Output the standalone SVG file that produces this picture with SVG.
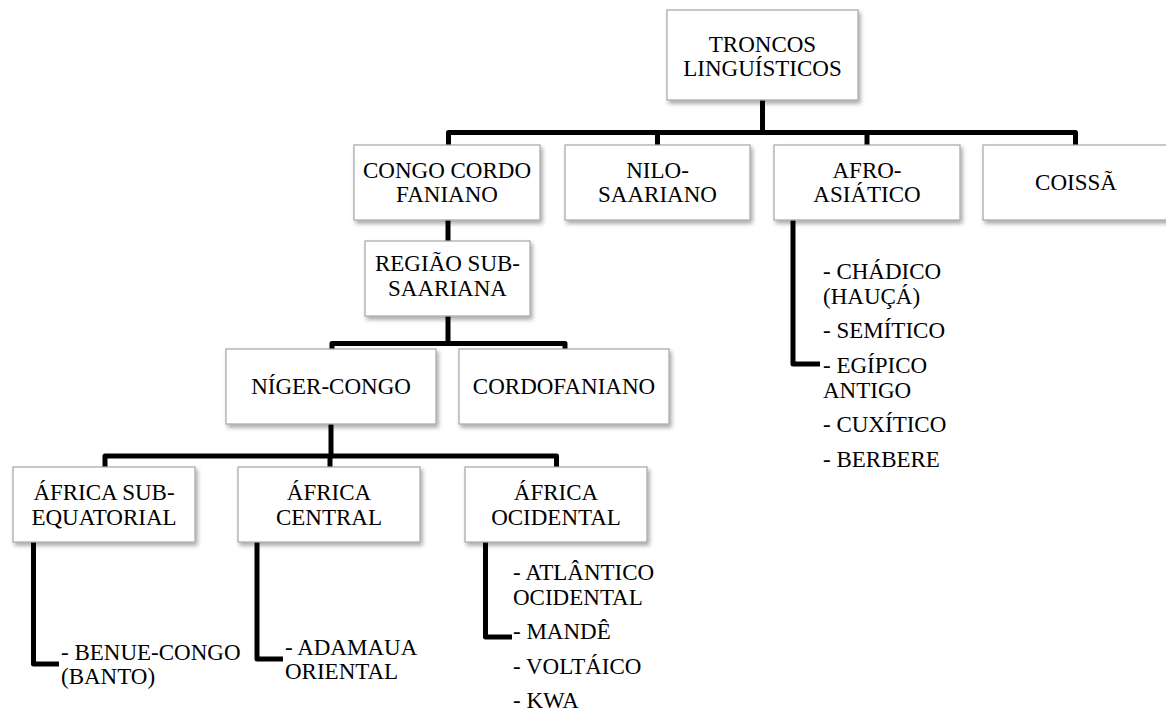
<svg xmlns="http://www.w3.org/2000/svg" width="1166" height="711" viewBox="0 0 1166 711">
<defs>
<filter id="sh" x="-10%" y="-10%" width="125%" height="130%">
<feDropShadow dx="2" dy="3" stdDeviation="2" flood-color="#000" flood-opacity="0.35"/>
</filter>
<style>
.box{fill:#ffffff;stroke:#a6a6a6;stroke-width:1.2;filter:url(#sh)}
.t{font-family:"Liberation Serif","Times New Roman",serif;font-size:23px;fill:#000}
.c{text-anchor:middle}
.ln{fill:none;stroke:#000;stroke-width:5;stroke-linejoin:round;stroke-linecap:butt}
</style>
</defs>
<rect width="1166" height="711" fill="#ffffff"/>
<g id="connectors">
<path class="ln" d="M762.5 100 V132.5"/>
<path class="ln" d="M448.5 145 V132.5 H1075.5 V145"/>
<path class="ln" d="M657.5 132.5 V145"/>
<path class="ln" d="M867 132.5 V145"/>
<path class="ln" d="M448 220 V241"/>
<path class="ln" d="M448 316 V343.5"/>
<path class="ln" d="M332 349 V343.5 H565 V349"/>
<path class="ln" d="M331 423 V456"/>
<path class="ln" d="M105 467 V456 H556.5 V467"/>
<path class="ln" d="M330 456 V467"/>
<path class="ln" d="M793 219 V364 H820"/>
<path class="ln" d="M33.5 542 V664 H59"/>
<path class="ln" d="M257 542 V659 H283"/>
<path class="ln" d="M485.5 542 V637 H512"/>
</g>
<g id="troncos">
<rect class="box" x="667" y="10" width="191" height="90"/>
<text class="t c" x="762.5" y="52">TRONCOS</text>
<text class="t c" x="762.5" y="76">LINGUÍSTICOS</text>
</g>
<g id="congo">
<rect class="box" x="354" y="145" width="186" height="75"/>
<text class="t c" x="447" y="177.5">CONGO CORDO</text>
<text class="t c" x="447" y="202">FANIANO</text>
</g>
<g id="nilo">
<rect class="box" x="565" y="145" width="185" height="75"/>
<text class="t c" x="657.5" y="177.5">NILO-</text>
<text class="t c" x="657.5" y="202">SAARIANO</text>
</g>
<g id="afro">
<rect class="box" x="774" y="145" width="186" height="75"/>
<text class="t c" x="867" y="177.5">AFRO-</text>
<text class="t c" x="867" y="202">ASIÁTICO</text>
</g>
<g id="coissa">
<rect class="box" x="983" y="145" width="186" height="75"/>
<text class="t c" x="1076" y="190">COISSÃ</text>
</g>
<g id="afro-list">
<text class="t" x="823" y="279">- CHÁDICO</text>
<text class="t" x="823" y="303.5">(HAUÇÁ)</text>
<text class="t" x="823" y="338">- SEMÍTICO</text>
<text class="t" x="823" y="373">- EGÍPICO</text>
<text class="t" x="823" y="397.5">ANTIGO</text>
<text class="t" x="823" y="432">- CUXÍTICO</text>
<text class="t" x="823" y="466.5">- BERBERE</text>
</g>
<g id="regiao">
<rect class="box" x="365" y="241" width="165" height="75"/>
<text class="t c" x="447.5" y="271">REGIÃO SUB-</text>
<text class="t c" x="447.5" y="295.5">SAARIANA</text>
</g>
<g id="niger">
<rect class="box" x="226" y="349" width="210" height="75"/>
<text class="t c" x="331" y="394">NÍGER-CONGO</text>
</g>
<g id="cordofaniano">
<rect class="box" x="459" y="349" width="210" height="75"/>
<text class="t c" x="564" y="394">CORDOFANIANO</text>
</g>
<g id="africa-sub">
<rect class="box" x="13" y="467" width="182" height="75"/>
<text class="t c" x="104" y="500">ÁFRICA SUB-</text>
<text class="t c" x="104" y="524.5">EQUATORIAL</text>
</g>
<g id="africa-central">
<rect class="box" x="238" y="467" width="182" height="75"/>
<text class="t c" x="329" y="500">ÁFRICA</text>
<text class="t c" x="329" y="524.5">CENTRAL</text>
</g>
<g id="africa-ocidental">
<rect class="box" x="465" y="467" width="182" height="75"/>
<text class="t c" x="556" y="500">ÁFRICA</text>
<text class="t c" x="556" y="524.5">OCIDENTAL</text>
</g>
<g id="sub-list">
<text class="t" x="61" y="660">- BENUE-CONGO</text>
<text class="t" x="61" y="684">(BANTO)</text>
</g>
<g id="central-list">
<text class="t" x="285" y="655">- ADAMAUA</text>
<text class="t" x="285" y="679">ORIENTAL</text>
</g>
<g id="ocidental-list">
<text class="t" x="513" y="580">- ATLÂNTICO</text>
<text class="t" x="513" y="604.5">OCIDENTAL</text>
<text class="t" x="513" y="639">- MANDÊ</text>
<text class="t" x="513" y="673.5">- VOLTÁICO</text>
<text class="t" x="513" y="708">- KWA</text>
</g>
</svg>
